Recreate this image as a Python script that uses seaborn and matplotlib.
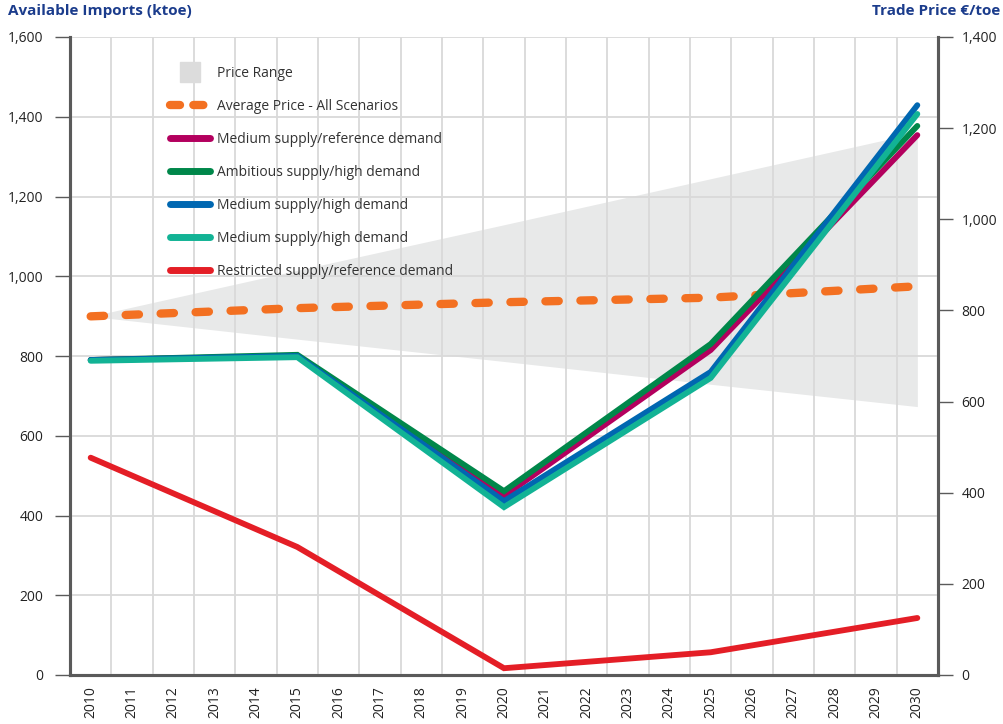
import numpy as np
import pandas as pd
import matplotlib.pyplot as plt
import seaborn as sns
from matplotlib.lines import Line2D
from matplotlib.ticker import FuncFormatter

# データ (ktoe / €/toe)
years = [2010, 2015, 2020, 2025, 2030]
all_years = list(range(2010, 2031))

med_ref = [790, 800, 449, 815, 1354]
amb_high = [790, 803, 461, 830, 1377]
med_high = [790, 800, 436, 760, 1429]
med_high2 = [788, 797, 421, 745, 1407]
restricted = [545, 321, 17, 57, 143]

avg_price = [787, 805, 818, 828, 853]
price_low = [787, 737, 688, 638, 589]
price_high = [787, 888, 988, 1089, 1190]

labels = ['Medium supply/reference demand', 'Ambitious supply/high demand',
          'Medium supply/high demand', 'Medium supply/high demand',
          'Restricted supply/reference demand']
colors = ['#b3005e', '#00874a', '#0067b1', '#12b395', '#e41e26']
series = [med_ref, amb_high, med_high, med_high2, restricted]

sns.set_style('white')
plt.rcParams['font.family'] = ['Open Sans', 'DejaVu Sans']

fig = plt.figure(figsize=(10.04, 7.24), dpi=100)
ax = fig.add_axes([70 / 1004, 49 / 724, 868 / 1004, 638 / 724])
ax2 = ax.twinx()
ax2.set_ylim(0, 1400)
ax2.set_yticks(range(0, 1401, 200))

# 価格レンジ (右軸)
ax2.fill_between(years, price_low, price_high, color='#e8e9e9', lw=0, zorder=0)

# 輸入量 (左軸) - 左軸を前面に
ax.set_zorder(ax2.get_zorder() + 1)
ax.patch.set_visible(False)

# 平均価格は右軸の座標で描く
sns.lineplot(x=years, y=avg_price, ax=ax, color='#f37021', lw=6,
             linestyle=(0, (1.6, 2.6)), dash_capstyle='round',
             transform=ax2.transData, zorder=2)
for vals, c in zip(series, colors):
    sns.lineplot(x=years, y=vals, ax=ax, color=c, lw=4.2, solid_capstyle='round',
                 solid_joinstyle='miter', zorder=3)

ax.set_xlim(2009.5, 2030.5)
ax.set_ylim(0, 1600)
ax.set_yticks(range(0, 1601, 200))
ax.set_xticks(all_years)
ax.set_xticklabels([str(y) for y in all_years], rotation=90)
ax.set_xticks(np.arange(2009.5, 2031, 1), minor=True)
ax.yaxis.set_major_formatter(FuncFormatter(lambda v, p: f'{int(v):,}'))
ax2.yaxis.set_major_formatter(FuncFormatter(lambda v, p: f'{int(v):,}'))

ax.set_axisbelow(True)
ax.grid(True, which='minor', axis='x', color='#d9d9d9', lw=1.3, zorder=1)
ax.grid(True, which='major', axis='y', color='#d9d9d9', lw=1.3, zorder=1)
ax.grid(False, which='major', axis='x')

for a in (ax, ax2):
    a.spines['top'].set_visible(False)
    for s in ('left', 'right', 'bottom'):
        a.spines[s].set_color('#5a5a5a')
        a.spines[s].set_linewidth(2.2)
    a.set_xlabel('')
    a.set_ylabel('')

ax.tick_params(axis='y', direction='out', length=11, width=1, color='#5a5a5a',
               pad=8, labelsize=10, labelcolor='#222222')
ax2.tick_params(axis='y', direction='out', length=11, width=1, color='#5a5a5a',
                pad=6, labelsize=10, labelcolor='#222222')
ax.tick_params(axis='x', which='major', direction='out', length=4, width=1,
               color='#5a5a5a', pad=4, labelsize=10, labelcolor='#222222')
ax.tick_params(axis='x', which='minor', length=0)

fig.text(8 / 1004, 1 - 4 / 724, 'Available Imports (ktoe)', ha='left', va='top',
         fontsize=11, fontweight='bold', color='#1b3c8c')
fig.text(1000 / 1004, 1 - 4 / 724, 'Trade Price €/toe', ha='right', va='top',
         fontsize=11, fontweight='bold', color='#1b3c8c')

# 凡例
handles = [Line2D([], [], marker='s', ms=14, color='#dcdcdc', ls='none'),
           Line2D([], [], color='#f37021', lw=6, linestyle=(0, (1.2, 1.6)),
                  dash_capstyle='round')]
handles += [Line2D([], [], color=c, lw=5, solid_capstyle='round') for c in colors]
leg_labels = ['Price Range', 'Average Price - All Scenarios'] + labels
ax.legend(handles, leg_labels, loc='upper left',
          bbox_to_anchor=(170 / 1004, 1 - 66 / 724), bbox_transform=fig.transFigure,
          frameon=False, fontsize=10, labelcolor='#333333', handlelength=2.9,
          handletextpad=0.5, labelspacing=1.3, borderpad=0, borderaxespad=0)

fig.savefig('out.png', dpi=100)
